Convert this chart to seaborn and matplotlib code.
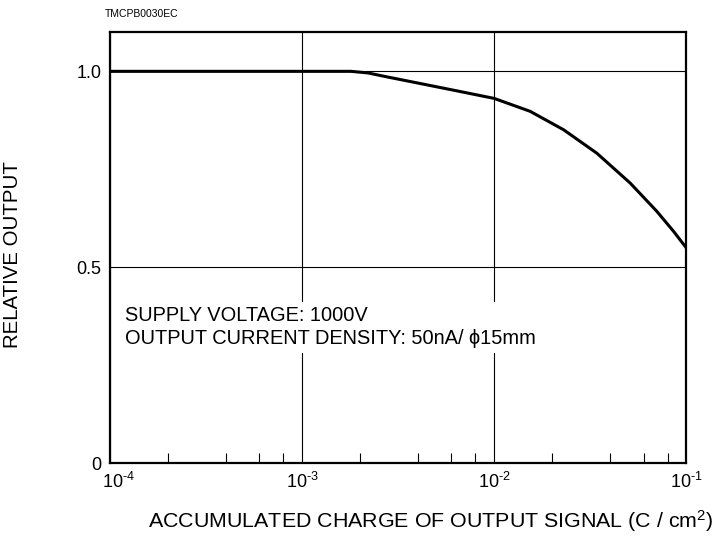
import seaborn as sns
import numpy as np
import pandas as pd
import matplotlib.pyplot as plt
from matplotlib.ticker import LogLocator, FixedLocator, NullFormatter
from matplotlib.transforms import ScaledTranslation

# values
charge = [1e-4, 1e-3, 1.8e-3, 2.2e-3, 2.76e-3, 4.12e-3, 6.14e-3, 1e-2,
          1.54e-2, 2.3e-2, 3.43e-2, 5.11e-2, 7.03e-2, 8.59e-2, 1e-1]
rel_output = [1.0, 1.0, 1.0, 0.996, 0.986, 0.969, 0.952, 0.931,
              0.898, 0.851, 0.791, 0.715, 0.643, 0.592, 0.550]
x_ticks = [1e-4, 1e-3, 1e-2, 1e-1]
x_tick_labels = [r"$10^{\text{-4}}$", r"$10^{\text{-3}}$", r"$10^{\text{-2}}$", r"$10^{\text{-1}}$"]
y_ticks = [0, 0.5, 1.0]
y_tick_labels = ["0", "0.5", "1.0"]

df = pd.DataFrame({"charge": charge, "output": rel_output})

sns.set_style("white")
plt.rcParams["font.family"] = ["Liberation Sans", "DejaVu Sans"]
plt.rcParams["mathtext.fontset"] = "custom"
plt.rcParams["mathtext.rm"] = "Liberation Sans"
plt.rcParams["mathtext.default"] = "regular"
plt.rcParams["text.color"] = "black"
plt.rcParams["axes.labelcolor"] = "black"
plt.rcParams["xtick.color"] = "black"
plt.rcParams["ytick.color"] = "black"

fig, ax = plt.subplots(figsize=(7.14, 5.45), dpi=100)
fig.subplots_adjust(left=0.154, right=0.961, top=0.941, bottom=0.150)

sns.lineplot(data=df, x="charge", y="output", color="black", linewidth=2.2, ax=ax)

ax.set_xscale("log")
ax.set_xlim(1e-4, 1e-1)
ax.set_ylim(0, 1.1)
ax.xaxis.set_major_locator(FixedLocator(x_ticks))
ax.set_xticklabels(x_tick_labels)
ax.xaxis.set_minor_locator(LogLocator(base=10, subs=[2, 4, 6, 8]))
ax.xaxis.set_minor_formatter(NullFormatter())
ax.set_yticks(y_ticks)
ax.set_yticklabels(y_tick_labels)

ax.grid(True, which="major", color="black", linewidth=0.8)
ax.tick_params(axis="both", which="major", length=0, labelsize=13, pad=6)
ax.tick_params(axis="x", which="minor", direction="in", length=7, width=0.8,
               bottom=True, top=False)

# first x label sits a bit to the right in the original
first = ax.get_xticklabels()[0]
first.set_transform(first.get_transform() + ScaledTranslation(0.09, 0, fig.dpi_scale_trans))

for sp in ax.spines.values():
    sp.set_linewidth(1.6)
    sp.set_color("black")

ax.set_xlabel("ACCUMULATED CHARGE OF OUTPUT SIGNAL (C / cm$^2$)", fontsize=15.4)
ax.set_ylabel("RELATIVE OUTPUT", fontsize=14.7)
ax.xaxis.set_label_coords(0.556, -0.104)
ax.yaxis.set_label_coords(-0.153, 0.483)

ax.text(0.026, 0.365, "SUPPLY VOLTAGE: 1000V\nOUTPUT CURRENT DENSITY: 50nA/ ϕ15mm",
        transform=ax.transAxes, fontsize=14.4, va="top", ha="left", linespacing=1.3,
        bbox=dict(facecolor="white", edgecolor="none", pad=3))

fig.text(105 / 714, 1 - 14 / 545, "TMCPB0030EC", fontsize=7.5, va="center", ha="left")

fig.savefig("out.png", dpi=100)
